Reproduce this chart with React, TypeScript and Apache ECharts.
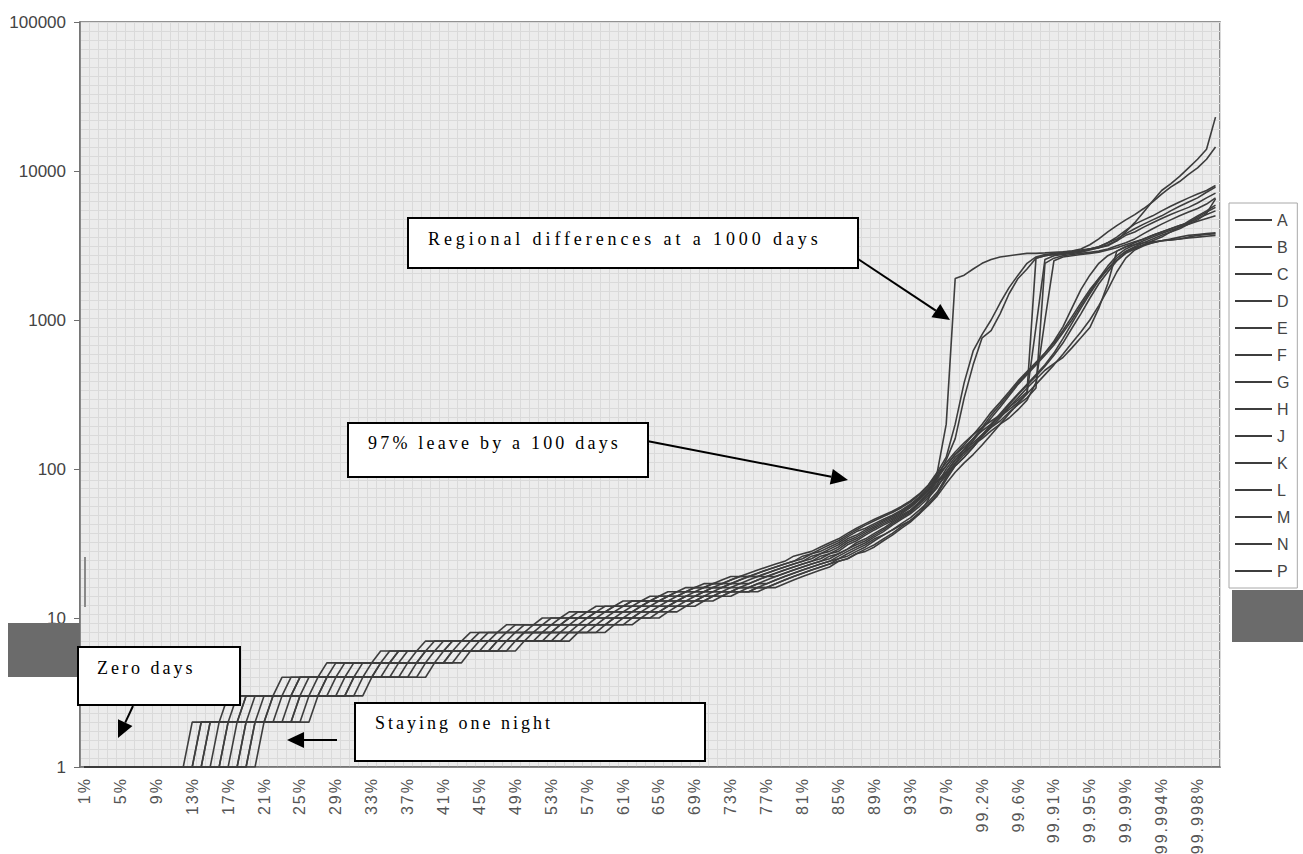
import React, { useEffect, useRef } from "react";
import * as echarts from "echarts";

// ---------- categories (percentile of stays) ----------
const intPercents: string[] = Array.from({ length: 97 }, (_, i) => `${i + 1}%`);
const tailPercents: string[] = [
  "98%", "98.5%", "99%", "99.2%", "99.3%", "99.4%", "99.5%", "99.6%", "99.7%", "99.8%",
  "99.9%", "99.91%", "99.92%", "99.93%", "99.94%", "99.95%", "99.96%", "99.97%", "99.98%", "99.99%",
  "99.991%", "99.992%", "99.993%", "99.994%", "99.995%", "99.996%", "99.997%", "99.998%", "99.999%", "100%",
];
const categories: string[] = [...intPercents, ...tailPercents];

const seriesNames = ["A", "B", "C", "D", "E", "F", "G", "H", "J", "K", "L", "M", "N", "P"];

// ---------- length of stay (days) per region ----------
const A = [
  1,1,1,1,1, 1,1,1,1,1, 1,1,
  2,2,2,2, 3,3,3,3,3,3, 4,4,4,4,4, 5,5,5,5,5,5, 6,6,6,6,6, 7,7,7,7,7, 8,8,8,8, 9,9,9,9,
  10,10,10, 11,11,11, 12,12,12, 13,13,13, 14,14, 15,15, 16,16, 17,17, 18, 19,19, 20,
  21,22,23,24,26,27,28,30,32,34,37,40,43,46,49,52,56,61,68,78,95,120,
  200,380,620,800,1000,1300,1650,2000,2400,2650,2750,2800,2850,2900,3000,3200,3500,3900,4300,4700,5100,5600,6200,7000,7800,8500,9500,10500,12000,14500,
];
const B = [
  1,1,1,1,1, 1,1,1,1,1, 1,1,1,
  2,2,2,2, 3,3,3,3,3,3, 4,4,4,4,4, 5,5,5,5,5,5, 6,6,6,6,6, 7,7,7,7,7, 8,8,8,8, 9,9,9,9,
  10,10,10, 11,11,11, 12,12,12, 13,13,13, 14,14, 15,15, 16,16, 17,17, 18, 19,19, 20,
  21,22,23,24,26,27,29,31,33,36,39,42,45,48,51,55,60,67,77,93,110,
  130,150,170,190,210,230,260,290,330,2600,2700,2750,2800,2850,2900,3000,3100,3300,3500,3800,4100,4400,4700,5000,5400,5800,6200,6600,7200,7800,
];
const C = [
  1,1,1,1,1, 1,1,1,1,1, 1,1,1,
  2,2,2,2,2, 3,3,3,3,3,3, 4,4,4,4,4, 5,5,5,5,5,5, 6,6,6,6,6, 7,7,7,7,7, 8,8,8,8, 9,9,9,9,
  10,10,10, 11,11,11, 12,12, 13,13,13, 14,14, 15,15, 16,16, 17,17, 18, 19,19, 20,
  21,22,23,24,25,27,28,30,32,35,38,40,43,46,49,53,58,65,75,90,105,
  125,145,170,200,240,280,330,390,450,520,600,700,850,1050,1300,1600,1900,2200,2500,2800,3000,3200,3400,3600,3900,4200,4600,5000,5400,5900,
];
const D = [
  1,1,1,1,1, 1,1,1,1,1, 1,1,1,1,
  2,2,2,2, 3,3,3,3,3,3, 4,4,4,4,4,4, 5,5,5,5,5, 6,6,6,6,6,6, 7,7,7,7,7, 8,8,8,8, 9,9,9,9,
  10,10,10, 11,11, 12,12,12, 13,13,13, 14,14, 15,15, 16,16, 17,17, 18, 19,19, 20,
  21,22,23,24,26,27,29,31,34,36,39,42,45,48,52,57,64,73,88,115,
  160,300,500,760,850,1100,1500,1900,2200,2600,2700,2750,2800,2850,2900,3000,3100,3300,3600,4000,4400,4700,5000,5400,5800,6200,6600,7000,7400,8000,
];
const E = [
  1,1,1,1,1, 1,1,1,1,1, 1,1,1,1,
  2,2,2,2,2, 3,3,3,3,3,3, 4,4,4,4,4,4, 5,5,5,5,5, 6,6,6,6,6, 7,7,7,7,7,7, 8,8,8,8, 9,9,9,
  10,10,10, 11,11,11, 12,12,12, 13,13, 14,14, 15,15,15, 16,16, 17, 18, 19,19, 20,
  21,22,23,24,25,27,28,30,33,35,38,41,44,47,51,56,63,72,86,105,
  125,140,160,180,200,225,250,280,320,900,2550,2700,2750,2800,2850,2950,3050,3200,3400,3700,3900,4200,4500,4800,5100,5400,5700,6100,6600,7100,
];
const F = [
  1,1,1,1,1, 1,1,1,1,1, 1,1,1,1,1,
  2,2,2,2,2, 3,3,3,3,3,3, 4,4,4,4,4,4, 5,5,5,5,5, 6,6,6,6,6, 7,7,7,7,7,7, 8,8,8,8, 9,9,9,
  10,10,10, 11,11,11, 12,12, 13,13,13, 14,14, 15,15, 16,16, 17,17, 18, 19,19, 20,
  21,22,23,24,26,27,29,32,34,37,40,43,46,50,55,62,71,84,95,
  115,135,160,190,230,270,320,380,440,510,600,720,900,1200,1600,2000,2400,2700,2900,3100,3300,3500,3700,3900,4100,4300,4500,4800,5100,5400,
];
const G = [
  1,1,1,1,1, 1,1,1,1,1, 1,1,1,1,1, 1,
  2,2,2,2,2, 3,3,3,3,3,3, 4,4,4,4,4,4, 5,5,5,5,5, 6,6,6,6,6, 7,7,7,7,7,7, 8,8,8,8, 9,9,9,
  10,10,10, 11,11,11, 12,12, 13,13,13, 14,14, 15,15, 16,16, 17,17, 18, 19, 20,
  21,22,23,24,25,27,28,31,33,36,39,42,45,49,53,60,69,82,92,
  110,130,155,185,220,260,310,370,430,500,580,680,820,1000,1250,1550,1900,2300,2700,3000,3200,3400,3600,3800,4000,4200,4400,4600,4800,5000,
];
const H = [
  1,1,1,1,1, 1,1,1,1,1, 1,1,1,1,1, 1,
  2,2,2,2,2, 3,3,3,3,3,3, 4,4,4,4,4,4, 5,5,5,5,5, 6,6,6,6,6,6, 7,7,7,7,7, 8,8,8,8, 9,9,9,9,
  10,10,10, 11,11, 12,12,12, 13,13, 14,14, 15,15,15, 16,16, 17, 18, 19,19, 20,
  21,22,23,24,26,27,29,32,34,37,40,44,48,52,59,68,79,100,
  120,135,150,170,190,210,240,270,300,350,2400,2600,2700,2750,2800,2850,2900,3000,3150,3300,3500,3800,4100,4400,4700,5000,5300,5600,6000,6600,
];
const J = [
  1,1,1,1,1, 1,1,1,1,1, 1,1,1,1,1, 1,1,
  2,2,2,2,2, 3,3,3,3,3,3, 4,4,4,4,4,4, 5,5,5,5,5, 6,6,6,6,6,6, 7,7,7,7,7, 8,8,8,8, 9,9,9,9,
  10,10,10, 11,11, 12,12,12, 13,13, 14,14, 15,15,15, 16,16, 17, 18, 19, 20,
  21,22,23,24,25,27,29,31,33,36,39,43,47,51,58,66,77,90,
  108,125,145,170,200,235,275,320,370,430,500,600,750,950,1200,1500,1850,2200,2600,2900,3100,3300,3500,3700,3900,4100,4400,4700,5200,6500,
];
const K = [
  1,1,1,1,1, 1,1,1,1,1, 1,1,1,1,1, 1,1,1,
  2,2,2,2,2, 3,3,3,3,3,3, 4,4,4,4,4,4, 5,5,5,5,5, 6,6,6,6,6,6, 7,7,7,7,7, 8,8,8,8, 9,9,9,9,
  10,10,10, 11,11, 12,12, 13,13,13, 14,14, 15,15, 16,16, 17,17, 18, 19, 20,
  21,22,23,24,26,28,30,32,35,38,42,46,50,56,64,75,95,
  115,130,145,160,180,200,220,250,290,380,1000,2500,2650,2700,2750,2800,2850,2950,3050,3200,3350,3500,3700,3900,4100,4300,4500,4900,5300,5700,
];
const L = [
  1,1,1,1,1, 1,1,1,1,1, 1,1,1,1,1, 1,1,1,
  2,2,2,2,2,2, 3,3,3,3,3,3, 4,4,4,4,4,4, 5,5,5,5,5, 6,6,6,6,6, 7,7,7,7,7,7, 8,8,8,8, 9,9,9,
  10,10,10, 11,11,11, 12,12, 13,13, 14,14, 15,15,15, 16,16, 17, 18, 19, 20,
  21,22,23,24,25,27,29,31,34,36,39,42,45,50,62,95,200,
  1900,2000,2200,2400,2550,2650,2700,2750,2800,2800,2820,2850,2870,2900,2950,3000,3050,3150,3400,3900,4500,5300,6300,7400,8200,9200,10500,12000,14000,23000,
];
const M = [
  1,1,1,1,1, 1,1,1,1,1, 1,1,1,1,1, 1,1,1,1,
  2,2,2,2,2, 3,3,3,3,3,3, 4,4,4,4,4,4,4, 5,5,5,5, 6,6,6,6,6,6, 7,7,7,7,7,7, 8,8,8,8, 9,9,9,
  10,10,10, 11,11, 12,12,12, 13,13, 14,14, 15,15,15, 16,16, 17, 18, 19, 20,
  21,22,23,25,26,28,30,33,36,39,43,47,53,60,70,88,
  105,120,140,165,195,230,270,315,365,420,490,580,700,880,1100,1400,1750,2100,2500,2850,3050,3200,3300,3400,3500,3600,3700,3750,3800,3850,
];
const N = [
  1,1,1,1,1, 1,1,1,1,1, 1,1,1,1,1, 1,1,1,1,
  2,2,2,2,2,2, 3,3,3,3,3,3, 4,4,4,4,4,4,4, 5,5,5,5, 6,6,6,6,6,6, 7,7,7,7,7,7, 8,8,8,8, 9,9,9,
  10,10,10, 11,11, 12,12, 13,13, 14,14, 15,15,15, 16,16, 17, 18, 19, 20,
  21,22,23,24,25,27,29,31,34,37,41,45,51,58,68,85,
  105,120,140,165,190,220,260,300,350,400,460,510,560,650,760,890,1200,1750,2900,3100,3200,3300,3350,3400,3450,3500,3550,3600,3650,3700,
];
const P = [
  1,1,1,1,1, 1,1,1,1,1, 1,1,1,1,1, 1,1,1,1,1,
  2,2,2,2,2,2, 3,3,3,3,3,3, 4,4,4,4,4,4,4, 5,5,5,5, 6,6,6,6,6,6, 7,7,7,7,7,7, 8,8,8,8, 9,9,9,
  10,10,10, 11,11, 12,12, 13,13, 14,14, 15,15,15, 16,16, 17, 18, 19, 20,
  21,22,24,25,27,28,30,33,36,40,44,50,57,66,80,
  95,110,125,145,170,200,235,275,320,370,430,500,590,700,830,1000,1250,1600,2100,2600,2950,3150,3300,3400,3450,3500,3600,3700,3750,3800,
];
const seriesValues = [A, B, C, D, E, F, G, H, J, K, L, M, N, P];

const yMin = 1;
const yMax = 100000;

// ---------- annotations ----------
const annotationBoxes = [
  { label: "Regional differences at a 1000 days", x: 408, y: 218, w: 450, h: 50, tx: 428, ty: 239, spacing: 3.9 },
  { label: "97% leave by a 100 days", x: 348, y: 423, w: 300, h: 54, tx: 368, ty: 443, spacing: 3.2 },
  { label: "Zero days", x: 78, y: 647, w: 162, h: 58, tx: 97, ty: 668, spacing: 3 },
  { label: "Staying one night", x: 355, y: 703, w: 350, h: 58, tx: 375, ty: 723, spacing: 3 },
];
const arrows = [
  { from: [852, 255], to: [950, 320] },
  { from: [647, 441], to: [848, 480] },
  { from: [133, 706], to: [118, 738] },
  { from: [337, 740], to: [287, 740] },
];
const annotationSpacing: Record<string, number> = {};
annotationBoxes.forEach((a) => { annotationSpacing[a.label] = a.spacing; });

function buildGraphics(): any[] {
  const g: any[] = [];
  // scan artefacts (grey bands)
  g.push({ type: "rect", z: 50, shape: { x: 8, y: 623, width: 72, height: 54 }, style: { fill: "#6b6b6b" } });
  g.push({ type: "rect", z: 50, shape: { x: 1232, y: 590, width: 71, height: 52 }, style: { fill: "#6b6b6b" } });
  g.push({ type: "line", z: 50, shape: { x1: 85, y1: 557, x2: 85, y2: 607 }, style: { stroke: "#8a8a8a", lineWidth: 2 } });

  arrows.forEach((a) => {
    const [x1, y1] = a.from;
    const [x2, y2] = a.to;
    const dx = x2 - x1, dy = y2 - y1;
    const len = Math.sqrt(dx * dx + dy * dy);
    const ux = dx / len, uy = dy / len;
    const hl = 17, hw = 8;
    const bx = x2 - ux * hl, by = y2 - uy * hl;
    g.push({ type: "line", z: 55, shape: { x1, y1, x2: bx, y2: by }, style: { stroke: "#000", lineWidth: 2 } });
    g.push({
      type: "polygon", z: 55,
      shape: { points: [[x2, y2], [bx - uy * hw, by + ux * hw], [bx + uy * hw, by - ux * hw]] },
      style: { fill: "#000" },
    });
  });

  annotationBoxes.forEach((b) => {
    g.push({
      type: "rect", z: 60,
      shape: { x: b.x, y: b.y, width: b.w, height: b.h },
      style: { fill: "#ffffff", stroke: "#000", lineWidth: 2 },
    });
    g.push({
      type: "text", z: 61, x: b.tx, y: b.ty,
      style: {
        text: b.label, fill: "#000", fontSize: 18, fontFamily: "'Liberation Serif', 'Times New Roman', serif",
        align: "left", verticalAlign: "middle",
      },
    });
  });
  return g;
}

export default function App() {
  const ref = useRef<HTMLDivElement>(null);
  useEffect(() => {
    const el = ref.current!;
    const chart = echarts.init(el, null, { renderer: "svg" });
    const lineColor = "#3d3d3d";
    const option: any = {
      animation: false,
      backgroundColor: "#ffffff",
      grid: {
        left: 80, right: 83, top: 22, bottom: 87,
        show: true, backgroundColor: "#ececec", borderColor: "#6e6e6e", borderWidth: 1.5,
      },
      legend: {
        data: seriesNames,
        orient: "vertical",
        left: 1229, top: 203,
        padding: [9, 7, 9, 6],
        backgroundColor: "#ffffff",
        borderColor: "#a8a8a8", borderWidth: 1,
        icon: "rect", itemWidth: 37, itemHeight: 2, itemGap: 11,
        selectedMode: false,
        textStyle: { color: "#444", fontSize: 16, lineHeight: 16, fontFamily: "'Liberation Sans', Arial, sans-serif" },
      },
      xAxis: {
        type: "category",
        data: categories,
        boundaryGap: true,
        axisLine: { lineStyle: { color: "#6e6e6e", width: 1.5 } },
        axisTick: { interval: 0, length: 5, lineStyle: { color: "#8a8a8a" } },
        axisLabel: {
          interval: 3, rotate: 90, margin: 10, color: "#555", fontSize: 16,
          fontFamily: "'Liberation Sans', Arial, sans-serif",
        },
        splitLine: { show: true, interval: 0, lineStyle: { color: "#dadada", width: 1 } },
      },
      yAxis: [
        {
          type: "log", logBase: 10, min: yMin, max: yMax,
          axisLine: { show: true, lineStyle: { color: "#6e6e6e", width: 1.5 } },
          axisTick: { show: true, length: 6, lineStyle: { color: "#6e6e6e" } },
          axisLabel: {
            margin: 14, color: "#444", fontSize: 17, fontFamily: "'Liberation Sans', Arial, sans-serif",
            formatter: (v: number) => String(Math.round(v)),
          },
          splitLine: { show: false },
        },
        {
          type: "value", min: 0, max: 83, interval: 1, position: "right",
          axisLine: { show: false }, axisTick: { show: false }, axisLabel: { show: false },
          splitLine: { show: true, lineStyle: { color: "#dadada", width: 1 } },
        },
      ],
      series: seriesNames.map((name, k) => ({
        name,
        type: "line",
        data: seriesValues[k],
        yAxisIndex: 0,
        symbol: "none",
        color: lineColor,
        lineStyle: { color: lineColor, width: 1.6 },
        emphasis: { disabled: true },
        z: 3,
      })),
      graphic: { elements: buildGraphics() },
    };
    chart.setOption(option);

    const applySpacing = () => {
      el.querySelectorAll("text").forEach((t) => {
        const s = t.textContent || "";
        if (annotationSpacing[s] !== undefined) t.setAttribute("letter-spacing", String(annotationSpacing[s]));
        else if (/%$/.test(s)) t.setAttribute("letter-spacing", "2");
      });
    };
    applySpacing();
    chart.on("finished", applySpacing);
    const timer = setTimeout(applySpacing, 30);
    return () => {
      clearTimeout(timer);
      chart.dispose();
    };
  }, []);
  return (
    <div
      ref={ref}
      style={{ position: "absolute", left: 0, top: 0, width: 1303, height: 854, background: "#fff" }}
    />
  );
}
